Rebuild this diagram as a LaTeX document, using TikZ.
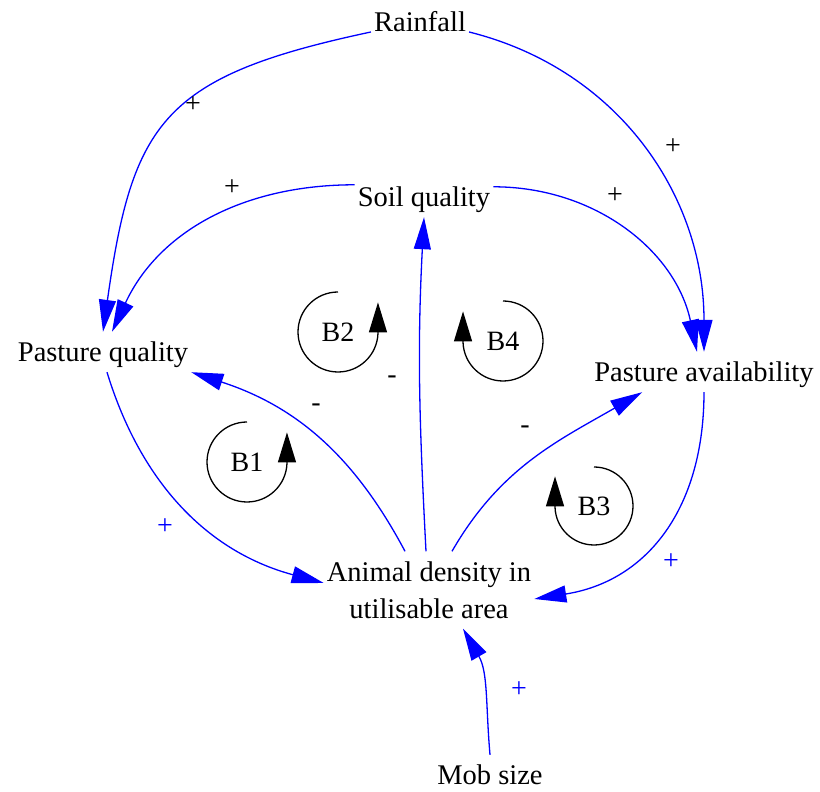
\documentclass[tikz,border=0pt]{standalone}
\usepackage{fontspec}
\setmainfont{Liberation Serif}
\usetikzlibrary{arrows.meta}

\begin{document}
\begin{tikzpicture}[
  x=1pt, y=1pt,
  var/.style      = {font=\fontsize{28.5}{37}\selectfont, inner xsep=3pt, inner ysep=0pt,
                     text height=30pt, text depth=10pt},
  stock/.style    = {font=\fontsize{28.5}{37}\selectfont, align=center,
                     inner xsep=3pt, inner ysep=10pt},
  link/.style     = {blue, line width=1.3pt, -{Triangle[length=32pt,width=17pt]}},
  pol/.style      = {font=\fontsize{28}{37}\selectfont, inner sep=1pt},
  loopmark/.style = {line width=1.3pt, -{Triangle[length=30pt,width=18pt]}},
  looptag/.style  = {font=\fontsize{28}{37}\selectfont, inner sep=0pt},
]
  \useasboundingbox (0,0) rectangle (820,792);

  \node[var,anchor=base] (rain) at (420,760) {Rainfall};
  \node[var,anchor=base] (soil) at (424,585) {Soil quality};
  \node[var,anchor=base] (pq) at (103,430) {Pasture quality};
  \node[var,anchor=base] (pa) at (704,410) {Pasture availability};
  \node[stock] (ad) at (429,202) {Animal density in\\utilisable area};
  \node[var,anchor=base] (mob) at (490,7) {Mob size};

  \draw[link] (rain.base west) to[out=192, in=82, looseness=1.35] (pq.north);
  \draw[link] (rain.base east) to[out=-14, in=90, looseness=1.0] (pa.north);
  \draw[link] ([yshift=-8pt]soil.north west) to[out=180, in=65] ([xshift=9pt]pq.north);
  \draw[link] ([yshift=-10pt]soil.north east) to[out=0, in=102] ([xshift=-7pt]pa.north);
  \draw[link] ([xshift=-3pt]ad.north) to[out=93, in=-93] (soil.south);
  \draw[link] ([xshift=-24pt]ad.north) to[out=118, in=-18] (pq.south east);
  \draw[link] ([xshift=23pt]ad.north) to[out=60, in=210] ([xshift=51pt]pa.south west);
  \draw[link] ([xshift=4pt]pq.south) to[out=-73, in=165] ([yshift=7pt]ad.west);
  \draw[link] (pa.south) to[out=-90, in=9, looseness=1.1] ([yshift=-9pt]ad.east);
  \draw[link] (mob.north) to[out=95, in=-60] ([xshift=34pt]ad.south);

  % polarities
  \node[pol] (rainpq) at (193,687) {+};
  \node[pol] (rainpa) at (673,645) {+};
  \node[pol] (soilpq) at (232,604) {+};
  \node[pol] (soilpa) at (615,596) {+};
  \node[pol] (adsoil) at (392,412) {-};
  \node[pol] (adpq) at (316,384) {-};
  \node[pol] (adpa) at (525,362) {-};
  \node[pol,blue] (pqad) at (165,265) {+};
  \node[pol,blue] (paad) at (671,230) {+};
  \node[pol,blue] (mobad) at (519,102) {+};

  % balancing loops
  \node[looptag] (b1) at (247,330) {B1};
  \node[looptag] (b2) at (338,460) {B2};
  \node[looptag] (b3) at (594,286) {B3};
  \node[looptag] (b4) at (503,451) {B4};
  \draw[loopmark] (b1) ++(90:40) arc[start angle=90, end angle=358, radius=40] -- ++(0,31);
  \draw[loopmark] (b2) ++(90:40) arc[start angle=90, end angle=358, radius=40] -- ++(0,31);
  \draw[loopmark] (b3) ++(90:39) arc[start angle=90, end angle=-178, radius=39] -- ++(0,31);
  \draw[loopmark] (b4) ++(90:40) arc[start angle=90, end angle=-178, radius=40] -- ++(0,31);
\end{tikzpicture}
\end{document}
